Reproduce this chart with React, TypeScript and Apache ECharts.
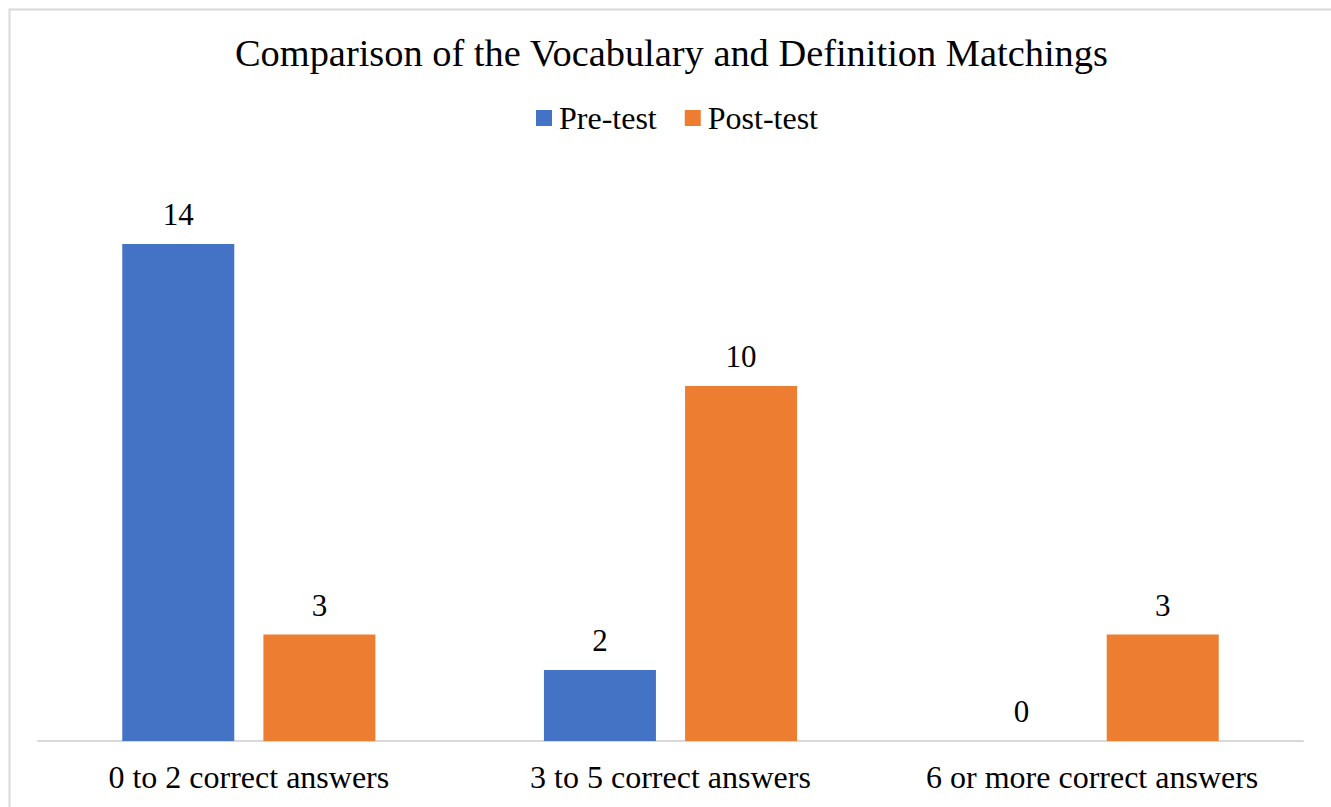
import React, { useEffect, useRef } from "react";
import * as echarts from "echarts";

const categories = ["0 to 2 correct answers", "3 to 5 correct answers", "6 or more correct answers"];
const preTest = [14, 2, 0];
const postTest = [3, 10, 3];
const seriesNames = ["Pre-test", "Post-test"];
const titleText = "Comparison of the Vocabulary and Definition Matchings";

const FONT = "Liberation Serif";

export default function App() {
  const ref = useRef<HTMLDivElement>(null);
  useEffect(() => {
    if (!ref.current) return;
    const chart = echarts.init(ref.current, null, { renderer: "svg" });
    const label = {
      show: true,
      position: "top" as const,
      distance: 14,
      color: "#000",
      fontFamily: FONT,
      fontSize: 31,
    };
    chart.setOption({
      animation: false,
      backgroundColor: "#fff",
      textStyle: { fontFamily: FONT },
      title: {
        text: titleText,
        left: 235,
        top: 34,
        padding: 0,
        textStyle: { fontFamily: FONT, fontSize: 38.4, fontWeight: "normal", color: "#000" },
      },
      legend: {
        data: seriesNames,
        top: 97,
        left: 531,
        itemWidth: 16,
        itemHeight: 16,
        itemGap: 28,
        icon: "rect",
        textStyle: { fontFamily: FONT, fontSize: 32, color: "#000", padding: [0, 0, 0, 2] },
      },
      graphic: [
        {
          type: "rect",
          shape: { x: 9.5, y: 9.5, width: 1400, height: 900 },
          style: { fill: "none", stroke: "#d9d9d9", lineWidth: 2 },
          silent: true,
        },
      ],
      grid: { left: 38, right: 28, top: 173, bottom: 66, containLabel: false },
      xAxis: {
        type: "category",
        data: categories,
        axisLine: { lineStyle: { color: "#d9d9d9", width: 2 } },
        axisTick: { show: false },
        axisLabel: {
          color: "#000",
          fontFamily: FONT,
          fontSize: 32,
          margin: 20,
          interval: 0,
          hideOverlap: false,
        },
      },
      yAxis: {
        type: "value",
        min: 0,
        max: 16,
        show: false,
        splitLine: { show: false },
      },
      series: [
        {
          name: seriesNames[0],
          type: "bar",
          data: preTest,
          barWidth: 112,
          barGap: "26%",
          itemStyle: { color: "#4472c4" },
          label,
        },
        {
          name: seriesNames[1],
          type: "bar",
          data: postTest,
          barWidth: 112,
          itemStyle: { color: "#ed7d31" },
          label,
        },
      ],
    });
    return () => chart.dispose();
  }, []);
  return (
    <div
      ref={ref}
      style={{ position: "fixed", left: 0, top: 0, width: 1331, height: 807 }}
    />
  );
}
